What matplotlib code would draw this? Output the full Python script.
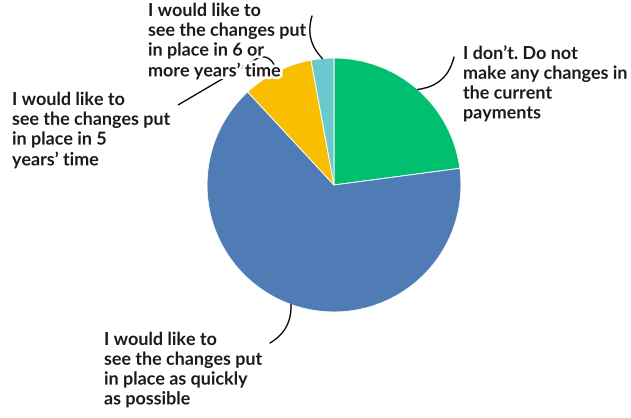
import numpy as np
import matplotlib
matplotlib.use("Agg")
import matplotlib.pyplot as plt
import matplotlib.patheffects as pe
from matplotlib.path import Path
from matplotlib.patches import PathPatch

# survey answers, percent of respondents
answers = [
    "I don\u2019t. Do not\nmake any changes in\nthe current\npayments",
    "I would like to\nsee the changes put\nin place as quickly\nas possible",
    "I would like to\nsee the changes put\nin place in 5\nyears\u2019 time",
    "I would like to\nsee the changes put\nin place in 6 or\nmore years\u2019 time",
]
shares = [22.9, 65.2, 9.0, 2.9]
colors = ["#00bf6f", "#507cb6", "#f9be00", "#6bc8cd"]

plt.rcParams["font.family"] = ["Lato", "DejaVu Sans"]

W, H = 631, 418
fig = plt.figure(figsize=(W / 100, H / 100), dpi=100)
ax = fig.add_axes([0, 0, 1, 1])

cx, cy, r = 334, H - 185, 127
wedges, _ = ax.pie(shares, colors=colors, startangle=90, counterclock=False,
                   center=(cx, cy), radius=r, frame=True,
                   wedgeprops=dict(linewidth=0.6, edgecolor="white"))
ax.set_xlim(0, W)
ax.set_ylim(0, H)
ax.set_aspect("equal")
ax.axis("off")


def edge_point(w):
    mid = np.deg2rad((w.theta1 + w.theta2) / 2)
    return cx + r * np.cos(mid), cy + r * np.sin(mid)


def px(x, y):
    # pixel coords measured from the top-left corner
    return x, H - y


# label top-left corner and leader start
label_pos = [(463, 45), (104, 331), (12, 91), (148, 2)]
leader_end = [(454, 57), (270, 343), (178, 105), (312, 16)]
bends = [-0.35, 0.3, None, 0.3]

for w, text, pos, end, rad in zip(wedges, answers, label_pos, leader_end, bends):
    tip = edge_point(w)
    if rad is None:
        # this one runs under the neighbouring label and hooks down at the end
        verts = [px(*end), px(258, 58), px(271, 53), tip]
        codes = [Path.MOVETO, Path.LINETO, Path.CURVE3, Path.CURVE3]
        ax.add_patch(PathPatch(Path(verts, codes), fill=False, lw=1.0,
                               edgecolor="black", zorder=3))
    else:
        ax.annotate("", xy=tip, xytext=px(*end),
                    arrowprops=dict(arrowstyle="-", color="black", lw=1.0,
                                    shrinkA=0, shrinkB=0,
                                    connectionstyle=f"arc3,rad={rad}"),
                    zorder=3)
    ax.text(*px(*pos), text, ha="left", va="top", fontsize=12.9,
            fontweight="bold", color="#1a1a1a", linespacing=1.2,
            path_effects=[pe.withStroke(linewidth=4, foreground="white")],
            zorder=4)

fig.savefig("out.png", dpi=100)
